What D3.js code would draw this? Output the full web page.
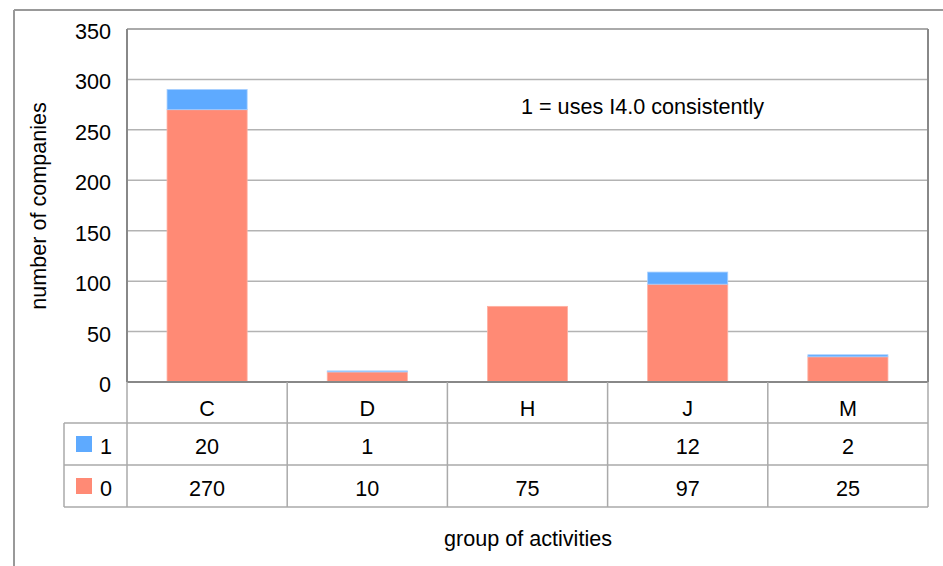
<!DOCTYPE html>
<html><head><meta charset="utf-8">
<script src="https://cdn.jsdelivr.net/npm/d3@7"></script>
<style>body{margin:0;background:#fff}svg{display:block;font-family:"Liberation Sans",Arial,sans-serif}</style>
</head><body>
<svg id="c" width="943" height="566"></svg>
<script>
const categories = ["C","D","H","J","M"];
const series0 = [270,10,75,97,25];      // "0"
const series1 = [20,1,null,12,2];        // "1"
const seriesNames = ["1","0"];
const yTicks = [0,50,100,150,200,250,300,350];

const svg = d3.select("#c");
const L = 127, R = 928, T = 29, B = 382;
const x = d3.scaleBand().domain(categories).range([L,R]).paddingInner(0).paddingOuter(0);
const y = d3.scaleLinear().domain([0,350]).range([B,T]);
const blue = "#5eaaff", salmon = "#ff8a75";
const font = 21.6;

// outer frame
svg.append("line").attr("x1",14).attr("x2",943).attr("y1",10).attr("y2",10).attr("stroke","#999").attr("stroke-width",2);
svg.append("line").attr("x1",14).attr("x2",14).attr("y1",10).attr("y2",566).attr("stroke","#999").attr("stroke-width",2);

// gridlines
svg.append("g").selectAll("line").data(yTicks.filter(d=>d>0)).join("line")
  .attr("x1",L).attr("x2",R).attr("y1",d=>y(d)).attr("y2",d=>y(d))
  .attr("stroke","#b3b3b3").attr("stroke-width",1.5);

// y axis labels
const yAxis = d3.axisLeft(y).tickValues(yTicks).tickSize(0).tickPadding(16);
const ga = svg.append("g").attr("transform",`translate(${L},0)`).call(yAxis);
ga.select(".domain").remove();
ga.selectAll("text").attr("font-size",font).attr("fill","#000").attr("font-family","Liberation Sans, Arial, sans-serif").attr("dy","0.44em");

// bars
const bw = x.bandwidth()*0.5;
const stacked = categories.map((c,i)=>({c, v0:series0[i], v1:series1[i]||0}));
svg.append("g").selectAll("rect").data(stacked).join("rect")
  .attr("x",d=>x(d.c)+(x.bandwidth()-bw)/2).attr("width",bw)
  .attr("y",d=>y(d.v0)).attr("height",d=>y(0)-y(d.v0))
  .attr("fill",salmon).attr("stroke","#ffb0a2").attr("stroke-width",0.8);
svg.append("g").selectAll("rect").data(stacked.filter(d=>d.v1>0)).join("rect")
  .attr("x",d=>x(d.c)+(x.bandwidth()-bw)/2).attr("width",bw)
  .attr("y",d=>y(d.v0+d.v1)).attr("height",d=>y(d.v0)-y(d.v0+d.v1))
  .attr("fill",blue).attr("stroke","#a6cfff").attr("stroke-width",0.8);

// plot border
svg.append("line").attr("x1",L).attr("x2",R).attr("y1",T).attr("y2",T).attr("stroke","#a0a0a0").attr("stroke-width",1.5);
svg.append("line").attr("x1",L).attr("x2",L).attr("y1",T).attr("y2",B).attr("stroke","#888").attr("stroke-width",2);
svg.append("line").attr("x1",R).attr("x2",R).attr("y1",T).attr("y2",B).attr("stroke","#888").attr("stroke-width",2);
svg.append("line").attr("x1",L).attr("x2",R).attr("y1",B).attr("y2",B).attr("stroke","#888").attr("stroke-width",2);

// data table
const rowY = [382,423,465,507];
const TL = 64;
const tg = svg.append("g");
const tcol = "#aaa";
[1,2,3].forEach(k=>{
  tg.append("line").attr("x1",TL).attr("x2",R).attr("y1",rowY[k]).attr("y2",rowY[k]).attr("stroke",tcol).attr("stroke-width",1.5);
});
tg.append("line").attr("x1",TL).attr("x2",TL).attr("y1",rowY[1]).attr("y2",rowY[3]).attr("stroke",tcol).attr("stroke-width",1.5);
const vx = categories.map(c=>x(c)).concat([R]);
tg.selectAll(".v").data(vx).join("line").attr("class","v")
  .attr("x1",d=>d).attr("x2",d=>d).attr("y1",rowY[0]).attr("y2",rowY[3]).attr("stroke",tcol).attr("stroke-width",1.5);

// category labels
tg.selectAll(".cl").data(categories).join("text").attr("class","cl")
  .attr("x",d=>x(d)+x.bandwidth()/2).attr("y",rowY[0]+34)
  .attr("text-anchor","middle").attr("font-size",font).text(d=>d);
// series rows
const rows = [{name:"1",vals:series1,color:blue},{name:"0",vals:series0,color:salmon}];
rows.forEach((r,ri)=>{
  const cy = (rowY[ri+1]+rowY[ri+2])/2;
  tg.append("rect").attr("x",76).attr("y",cy-8).attr("width",16).attr("height",16).attr("fill",r.color);
  tg.append("text").attr("x",100).attr("y",cy+10).attr("font-size",font).text(r.name);
  tg.selectAll(".r"+ri).data(categories).join("text").attr("class","r"+ri)
    .attr("x",d=>x(d)+x.bandwidth()/2).attr("y",cy+10)
    .attr("text-anchor","middle").attr("font-size",font)
    .text((d,i)=>r.vals[i]==null?"":r.vals[i]);
});

// titles
svg.append("text").attr("transform","translate(46,206) rotate(-90)").attr("text-anchor","middle").attr("font-size",font).text("number of companies");
svg.append("text").attr("x",528).attr("y",546).attr("text-anchor","middle").attr("font-size",font).text("group of activities");
svg.append("text").attr("x",521).attr("y",114).attr("font-size",font).text("1 = uses I4.0 consistently");
</script>
</body></html>
